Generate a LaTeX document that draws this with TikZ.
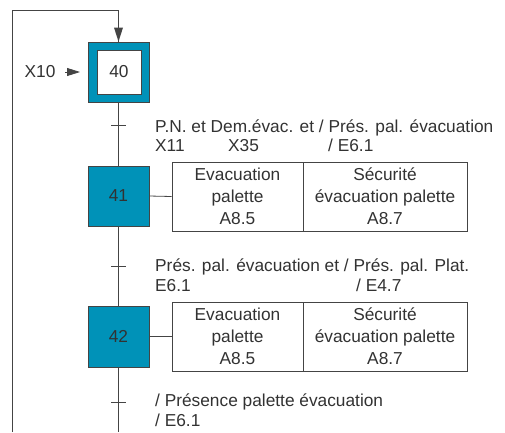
\documentclass[tikz,border=0pt]{standalone}
\usepackage{fontspec}
\setmainfont{Liberation Sans}
\usetikzlibrary{arrows.meta}
\definecolor{teal}{RGB}{0,146,184}
\definecolor{txt}{RGB}{50,50,50}
\definecolor{ln}{RGB}{68,68,68}
\begin{document}
\begin{tikzpicture}[x=1pt,y=1pt,
  every node/.style={text=txt,font=\fontsize{17.3}{22}\selectfont,inner sep=0pt},
  stepbox/.style={draw=ln,line width=0.8pt,fill=teal,minimum width=61pt,minimum height=60pt},
  actbox/.style={draw=ln,line width=0.8pt,fill=white,minimum height=69pt,align=center},
  cond/.style={anchor=base west},
  wire/.style={draw=ln,line width=0.8pt}]
\useasboundingbox (0,0) rectangle (505,-432);
% steps
\node[stepbox] (s40) at (118.5,-72) {};
\node[draw=ln,line width=0.8pt,fill=white,minimum width=44pt,minimum height=44pt] (s40i) at (119,-72) {40};
\node[stepbox] (s41) at (118.5,-196) {41};
\node[stepbox,minimum height=61pt] (s42) at (118.5,-336.5) {42};
% actions
\node[actbox,minimum width=131pt] (a41a) at (237.5,-196.5) {Evacuation\\palette\\A8.5};
\node[actbox,minimum width=164pt] (a41b) at (385,-196.5) {Sécurité\\évacuation palette\\A8.7};
\node[actbox,minimum width=131pt] (a42a) at (237.5,-336.5) {Evacuation\\palette\\A8.5};
\node[actbox,minimum width=164pt] (a42b) at (385,-336.5) {Sécurité\\évacuation palette\\A8.7};
% links
\draw[wire] (s41.east) -- (a41a.west);
\draw[wire] (s42.east) -- (a42a.west);
\draw[wire] (s40.south) -- (s41.north);
\draw[wire] (s41.south) -- (s42.north);
\coordinate (bot) at (118.5,-432);
\draw[wire] (s42.south) -- (bot);
\coordinate (lb) at (12,-432);
\coordinate (lt) at (12,-10);
\coordinate (rt) at (118.5,-10);
\draw[wire] (lb) -- (lt) -- (rt) -- (s40.north);
\fill[ln] (s40.north) -- ++(-4.5,14) -- ++(9,0) -- cycle;
% ticks
\coordinate (t1) at (118.5,-125);
\coordinate (t2) at (118.5,-266);
\coordinate (t3) at (118.5,-402);
\foreach \t in {t1,t2,t3} \draw[wire] ([xshift=-7.5pt]\t) -- ([xshift=7.5pt]\t);
% X10
\node (x10) at (40,-72) {X10};
\coordinate (xa) at (65,-72);
\coordinate (xb) at (80,-72);
\draw[wire,-{Triangle[length=13pt,width=8pt]}] (xa) -- (xb);
% conditions
\node[cond] (c1a) at (155,-132.5) {P.N. et Dem.évac. et / Prés. pal. évacuation};
\node[cond] (c1b) at (155,-151.5) {X11};
\node[cond] (c1c) at (228,-151.5) {X35};
\node[cond] (c1d) at (328,-151.5) {/ E6.1};
\node[cond] (c2a) at (155,-271.5) {Prés. pal. évacuation et / Prés. pal. Plat.};
\node[cond] (c2b) at (155,-291.5) {E6.1};
\node[cond] (c2c) at (356,-291.5) {/ E4.7};
\node[cond] (c3a) at (155,-406) {/ Présence palette évacuation};
\node[cond] (c3b) at (155,-426.5) {/ E6.1};
\end{tikzpicture}
\end{document}
